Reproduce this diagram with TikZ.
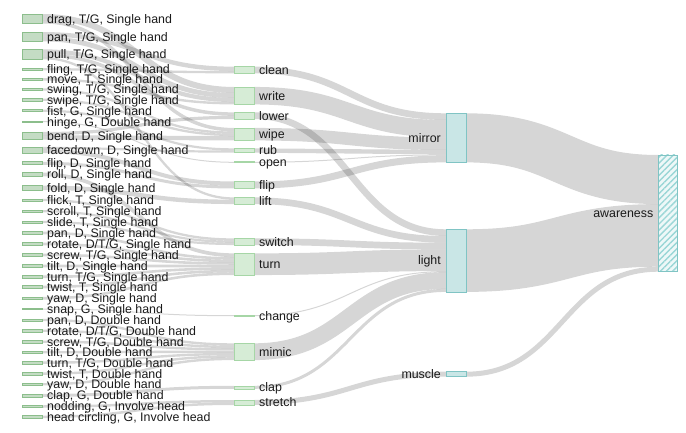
\documentclass[tikz,border=0pt]{standalone}
\usepackage{fontspec}
\setmainfont{Liberation Sans}
\usetikzlibrary{patterns.meta}
\pgfdeclarelayer{bg}
\pgfsetlayers{bg,main}
\definecolor{lfill}{HTML}{C4DCC4}
\definecolor{ldraw}{HTML}{8CBE8C}
\definecolor{mfill}{HTML}{D6ECD6}
\definecolor{mdraw}{HTML}{A6D6A6}
\definecolor{rfill}{HTML}{C9E6E6}
\definecolor{rdraw}{HTML}{80C4C4}
\definecolor{hatchc}{HTML}{9AD6D6}
\definecolor{afill}{HTML}{EEF8F8}
\definecolor{txt}{HTML}{1A1A1A}

% value store
\def\getv#1{\ifcsname skv#1\endcsname\csname skv#1\endcsname\else 0\fi}
\def\addv#1#2{\edef\lkA{\getv{#1}}\pgfmathsetmacro\lkB{\lkA+#2}\expandafter\xdef\csname skv#1\endcsname{\lkB}}

% node with label on the right / on the left
\newcommand\mkr[5]{%
  \edef\hA{\getv{out#1}}\edef\hB{\getv{in#1}}%
  \pgfmathsetmacro\hH{max(\hA,\hB)}%
  \node[#2, minimum height=\hH pt, anchor=north west] (#1) at (#3pt,-#4pt) {};
  \node[lbl, anchor=base west] (#1-t) at ([xshift=5pt,yshift=-4.4pt]#1.east) {#5};}
\newcommand\mkl[5]{%
  \edef\hA{\getv{out#1}}\edef\hB{\getv{in#1}}%
  \pgfmathsetmacro\hH{max(\hA,\hB)}%
  \node[#2, minimum height=\hH pt, anchor=north west] (#1) at (#3pt,-#4pt) {};
  \node[lbl, anchor=base east] (#1-t) at ([xshift=-5pt,yshift=-4.4pt]#1.west) {#5};}

\def\linklist{%
\lnk{ldrag}{mwrite}{6.0}\lnk{ldrag}{mwipe}{3.5}%
\lnk{lpanTG}{mclean}{4.4}\lnk{lpanTG}{mwrite}{4.9}%
\lnk{lpull}{mwrite}{4.2}\lnk{lpull}{mlower}{3.5}\lnk{lpull}{mlift}{2.3}%
\lnk{lfling}{mclean}{2.3}%
\lnk{lmove}{mwrite}{2.4}%
\lnk{lswing}{mwipe}{2.3}%
\lnk{lswipe}{mwipe}{2.3}%
\lnk{lfist}{mrub}{2.2}%
\lnk{lhinge}{mopen}{1.0}%
\lnk{lbend}{mlower}{3.2}\lnk{lbend}{mwipe}{4.4}%
\lnk{lfacedown}{mrub}{2.2}\lnk{lfacedown}{mflip}{4.0}%
\lnk{lflip}{mflip}{3.0}%
\lnk{lroll}{mturn}{3.7}%
\lnk{lfold}{mlift}{4.4}%
\lnk{lflick}{mswitch}{2.3}%
\lnk{lscroll}{mswitch}{2.2}%
\lnk{lslide}{mswitch}{2.2}%
\lnk{lpanD}{mturn}{2.57}%
\lnk{lrotate}{mturn}{2.57}%
\lnk{lscrew}{mturn}{2.57}%
\lnk{ltilt}{mturn}{2.57}%
\lnk{lturn}{mturn}{2.57}%
\lnk{ltwist}{mturn}{2.57}%
\lnk{lyaw}{mturn}{2.57}%
\lnk{lsnap}{mchange}{1.0}%
\lnk{lpanDd}{mmimic}{2.4}%
\lnk{lrotateD}{mmimic}{2.4}%
\lnk{lscrewD}{mmimic}{2.4}%
\lnk{ltiltD}{mmimic}{2.4}%
\lnk{lturnD}{mmimic}{2.4}%
\lnk{ltwistD}{mmimic}{2.4}%
\lnk{lyawD}{mmimic}{2.4}%
\lnk{lclap}{mclap}{3.0}%
\lnk{lnod}{mstretch}{2.5}\lnk{lhead}{mstretch}{2.5}%
\lnk{mclean}{mirror}{6.7}%
\lnk{mwrite}{mirror}{17.5}%
\lnk{mlower}{light}{6.7}%
\lnk{mwipe}{mirror}{12.5}%
\lnk{mrub}{mirror}{4.4}%
\lnk{mopen}{mirror}{1.0}%
\lnk{mflip}{mirror}{7.0}%
\lnk{mlift}{light}{6.7}%
\lnk{mswitch}{light}{6.7}%
\lnk{mturn}{light}{21.7}%
\lnk{mchange}{light}{1.0}%
\lnk{mmimic}{light}{16.8}%
\lnk{mclap}{light}{3.0}%
\lnk{mstretch}{muscle}{5.0}%
\lnk{mirror}{awareness}{49.1}%
\lnk{light}{awareness}{62.6}%
\lnk{muscle}{awareness}{5.0}%
}

\begin{document}
\begin{tikzpicture}[
  lnode/.style={draw=ldraw, fill=lfill, line width=0.6pt, minimum width=20pt, inner sep=0pt, outer sep=0pt},
  mnode/.style={draw=mdraw, fill=mfill, line width=0.6pt, minimum width=20pt, inner sep=0pt, outer sep=0pt},
  rnode/.style={draw=rdraw, fill=rfill, line width=0.6pt, minimum width=20pt, inner sep=0pt, outer sep=0pt},
  anode/.style={draw=rdraw, preaction={fill=afill}, pattern={Lines[angle=45,distance=4.3pt,line width=1.4pt]}, pattern color=hatchc, line width=0.6pt, minimum width=19pt, inner sep=0pt, outer sep=0pt},
  lk/.style={draw=black, draw opacity=0.16},
  lbl/.style={inner sep=0pt, text=txt, font=\fontsize{12.4}{14}\selectfont}
]
\useasboundingbox (0,0) rectangle (686pt,-433pt);
% pass 1: totals
\def\lnk#1#2#3{\addv{out#1}{#3}\addv{in#2}{#3}}
\linklist
% left column
\mkr{ldrag}{lnode}{22}{14}{drag, T/G, Single hand}
\mkr{lpanTG}{lnode}{22}{32.05}{pan, T/G, Single hand}
\mkr{lpull}{lnode}{22}{49.3}{pull, T/G, Single hand}
\mkr{lfling}{lnode}{22}{68.15}{fling, T/G, Single hand}
\mkr{lmove}{lnode}{22}{78.1}{move, T, Single hand}
\mkr{lswing}{lnode}{22}{88.35}{swing, T/G, Single hand}
\mkr{lswipe}{lnode}{22}{98.65}{swipe, T/G, Single hand}
\mkr{lfist}{lnode}{22}{109.6}{fist, G, Single hand}
\mkr{lhinge}{lnode}{22}{121.2}{hinge, G, Double hand}
\mkr{lbend}{lnode}{22}{132}{bend, D, Single hand}
\mkr{lfacedown}{lnode}{22}{146.9}{facedown, D, Single hand}
\mkr{lflip}{lnode}{22}{161.8}{flip, D, Single hand}
\mkr{lroll}{lnode}{22}{172.65}{roll, D, Single hand}
\mkr{lfold}{lnode}{22}{185.6}{fold, D, Single hand}
\mkr{lflick}{lnode}{22}{198.85}{flick, T, Single hand}
\mkr{lscroll}{lnode}{22}{210.2}{scroll, T, Single hand}
\mkr{lslide}{lnode}{22}{220.9}{slide, T, Single hand}
\mkr{lpanD}{lnode}{22}{231.7}{pan, D, Single hand}
\mkr{lrotate}{lnode}{22}{242.7}{rotate, D/T/G, Single hand}
\mkr{lscrew}{lnode}{22}{253.7}{screw, T/G, Single hand}
\mkr{ltilt}{lnode}{22}{264.7}{tilt, D, Single hand}
\mkr{lturn}{lnode}{22}{275.5}{turn, T/G, Single hand}
\mkr{ltwist}{lnode}{22}{285.7}{twist, T, Single hand}
\mkr{lyaw}{lnode}{22}{297}{yaw, D, Single hand}
\mkr{lsnap}{lnode}{22}{308.5}{snap, G, Single hand}
\mkr{lpanDd}{lnode}{22}{318.8}{pan, D, Double hand}
\mkr{lrotateD}{lnode}{22}{329.5}{rotate, D/T/G, Double hand}
\mkr{lscrewD}{lnode}{22}{340.5}{screw, T/G, Double hand}
\mkr{ltiltD}{lnode}{22}{351.1}{tilt, D, Double hand}
\mkr{lturnD}{lnode}{22}{361.5}{turn, T/G, Double hand}
\mkr{ltwistD}{lnode}{22}{372.5}{twist, T, Double hand}
\mkr{lyawD}{lnode}{22}{383.1}{yaw, D, Double hand}
\mkr{lclap}{lnode}{22}{394}{clap, G, Double hand}
\mkr{lnod}{lnode}{22}{405.25}{nodding, G, Involve head}
\mkr{lhead}{lnode}{22}{415.55}{head circling, G, Involve head}
% middle column
\mkr{mclean}{mnode}{234}{66.65}{clean}
\mkr{mwrite}{mnode}{234}{86.95}{write}
\mkr{mlower}{mnode}{234}{112.35}{lower}
\mkr{mwipe}{mnode}{234}{127.95}{wipe}
\mkr{mrub}{mnode}{234}{148.3}{rub}
\mkr{mopen}{mnode}{234}{161.8}{open}
\mkr{mflip}{mnode}{234}{181.5}{flip}
\mkr{mlift}{mnode}{234}{197.35}{lift}
\mkr{mswitch}{mnode}{234}{238.35}{switch}
\mkr{mturn}{mnode}{234}{253.35}{turn}
\mkr{mchange}{mnode}{234}{315.2}{change}
\mkr{mmimic}{mnode}{234}{343.3}{mimic}
\mkr{mclap}{mnode}{234}{385.8}{clap}
\mkr{mstretch}{mnode}{234}{400}{stretch}
% right columns
\mkl{mirror}{rnode}{446}{113.3}{mirror}
\mkl{light}{rnode}{446}{229.3}{light}
\mkl{muscle}{rnode}{446}{371.7}{muscle}
\mkl{awareness}{anode}{658.5}{155}{awareness}
% pass 2: links
\begin{pgfonlayer}{bg}
\def\lnk#1#2#3{%
  \edef\lkS{\getv{so#1}}\edef\lkT{\getv{to#2}}%
  \draw[lk, line width=#3pt] ([yshift={-(\lkS+#3/2)*1pt}]#1.north east) .. controls +(96pt,0) and +(-96pt,0) .. ([yshift={-(\lkT+#3/2)*1pt}]#2.north west);
  \addv{so#1}{#3}\addv{to#2}{#3}}
\linklist
\end{pgfonlayer}
\end{tikzpicture}
\end{document}
